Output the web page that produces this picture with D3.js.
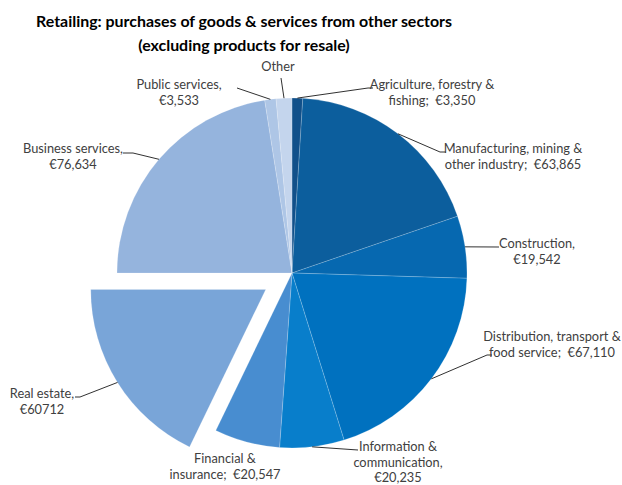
<!DOCTYPE html>
<html>
<head>
<meta charset="utf-8">
<script src="https://cdn.jsdelivr.net/npm/d3@7"></script>
<style>
  html, body { margin: 0; padding: 0; background: #fff; }
  svg text { white-space: pre; }
</style>
</head>
<body>
<svg id="chart" width="622" height="485"></svg>
<script>
// Retail purchases from other sectors, clockwise from 12 o'clock
const sectors = [
  "Agriculture, forestry & fishing",
  "Manufacturing, mining & other industry",
  "Construction",
  "Distribution, transport & food service",
  "Information & communication",
  "Financial & insurance",
  "Real estate",
  "Business services",
  "Public services",
  "Other"
];
const values = [3350, 63865, 19542, 67110, 20235, 20547, 60712, 76634, 3533, 4950];
const labelLines = [
  ["Agriculture, forestry &", "fishing;  €3,350"],
  ["Manufacturing, mining &", "other industry;  €63,865"],
  ["Construction,", "€19,542"],
  ["Distribution, transport &", "food service;  €67,110"],
  ["Information &", "communication,", "€20,235"],
  ["Financial &", "insurance;  €20,547"],
  ["Real estate,", "€60712"],
  ["Business services,", "€76,634"],
  ["Public services,", "€3,533"],
  ["Other"]
];
const sliceColors = [
  "#11508a", "#0c5e9d", "#0668b0", "#0071bf", "#087ecb",
  "#488dd0", "#79a5d8", "#95b4dd", "#aec6e6", "#c4d5ed"
];
const explodedSector = "Real estate";
const titleLines = [
  "Retailing: purchases of goods & services from other sectors",
  "(excluding products for resale)"
];

// Layout
const W = 622, H = 485;
const cx = 292, cy = 273, R = 175, explode = 31;
const FONT = "Lato, 'Open Sans', sans-serif";
const lineGap = 15.5;

// label anchors: centre x, first baseline y, leader end and optional short tail
const labelLayout = [
  { x: 432, y: 89,  end: [368, 88],  tail: [373, 88] },
  { x: 513, y: 153, end: [440, 152], tail: [446, 152] },
  { x: 537, y: 248, end: [499, 247], tail: null },
  { x: 552, y: 341, end: [487, 355], tail: [492, 355] },
  { x: 398, y: 451, end: [358, 450], tail: null },
  { x: 225, y: 463, end: null, tail: null },
  { x: 42,  y: 398, end: [80, 397],  tail: [75, 397] },
  { x: 73,  y: 153, end: [133, 153], tail: [123, 153] },
  { x: 179, y: 89,  end: [237, 88],  tail: null },
  { x: 278, y: 71,  end: [281, 78],  tail: null }
];

const svg = d3.select("#chart");

// font sizes fitted to the target text widths
function measure(text, size, weight) {
  const t = svg.append("text").attr("font-family", FONT)
    .attr("font-size", size).attr("font-weight", weight).text(text);
  const w = t.node().getComputedTextLength();
  t.remove();
  return w;
}
const titleSize = 18.67 * 416 / measure(titleLines[0], 18.67, 700);
const labelSize = 12 * 100 / measure("Business services,", 12, 400);

// Title
svg.append("g").selectAll("text").data(titleLines).join("text")
  .attr("x", 244).attr("y", (d, i) => 27 + i * 24)
  .attr("text-anchor", "middle")
  .attr("font-family", FONT).attr("font-weight", 700)
  .attr("font-size", titleSize).attr("fill", "#000")
  .text(d => d);

// Pie
const data = sectors.map((s, i) => ({ name: s, value: values[i], color: sliceColors[i], lines: labelLines[i], layout: labelLayout[i] }));
const pie = d3.pie().sort(null).value(d => d.value).startAngle(0).endAngle(2 * Math.PI);
const arcs = pie(data);
const arc = d3.arc().innerRadius(0).outerRadius(R);

function offsetOf(a) {
  if (a.data.name !== explodedSector) return [0, 0];
  const mid = (a.startAngle + a.endAngle) / 2;
  return [explode * Math.sin(mid), -explode * Math.cos(mid)];
}

const gPie = svg.append("g").attr("transform", `translate(${cx},${cy})`);
gPie.selectAll("path").data(arcs).join("path")
  .attr("transform", a => { const o = offsetOf(a); return `translate(${o[0]},${o[1]})`; })
  .attr("d", arc)
  .attr("fill", a => a.data.color)
  .attr("stroke", "#ffffff").attr("stroke-opacity", 0.3).attr("stroke-width", 0.6);

// Leader lines from the slice edge at its mid-angle
const gLines = svg.append("g");
arcs.forEach(a => {
  const L = a.data.layout;
  if (!L.end) return;
  const mid = (a.startAngle + a.endAngle) / 2;
  const o = offsetOf(a);
  const p0 = [cx + o[0] + R * Math.sin(mid), cy + o[1] - R * Math.cos(mid)];
  const pts = [p0, L.end];
  if (L.tail) pts.push(L.tail);
  gLines.append("path")
    .attr("d", d3.line()(pts))
    .attr("fill", "none").attr("stroke", "#1a1a1a").attr("stroke-width", 0.9);
});

// Labels
const gLabels = svg.append("g");
arcs.forEach(a => {
  const L = a.data.layout;
  const t = gLabels.append("text")
    .attr("font-family", FONT).attr("font-size", labelSize)
    .attr("fill", "#404040").attr("text-anchor", "middle");
  a.data.lines.forEach((ln, i) => {
    t.append("tspan").attr("x", L.x).attr("y", L.y + i * lineGap).text(ln);
  });
});
</script>
</body>
</html>
